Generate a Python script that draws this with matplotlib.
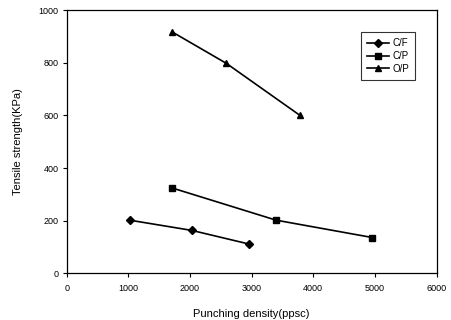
import matplotlib
matplotlib.use("Agg")
import matplotlib.pyplot as plt

plt.rcParams['font.family'] = ['Liberation Sans', 'DejaVu Sans']

cf_x = [1020, 2030, 2960]
cf_y = [202, 163, 111]
cp_x = [1715, 3395, 4955]
cp_y = [324, 202, 136]
op_x = [1715, 2590, 3785]
op_y = [917, 798, 600]

xticks = [0, 1000, 2000, 3000, 4000, 5000, 6000]
yticks = [0, 200, 400, 600, 800, 1000]

fig = plt.figure(figsize=(4.52, 3.2), dpi=100)
ax = fig.add_axes([0.1475, 0.146, 0.8185, 0.822])

ax.plot(cf_x, cf_y, color='black', lw=1.2, marker='D', ms=4, label='C/F')
ax.plot(cp_x, cp_y, color='black', lw=1.2, marker='s', ms=4.5, label='C/P')
ax.plot(op_x, op_y, color='black', lw=1.2, marker='^', ms=5, label='O/P')

ax.set_xlim(0, 6000)
ax.set_ylim(0, 1000)
ax.set_xticks(xticks)
ax.set_yticks(yticks)
ax.tick_params(direction='out', length=3, width=0.8, labelsize=6.5)
ax.tick_params(axis='x', pad=5)
ax.tick_params(axis='y', pad=3)
for s in ax.spines.values():
    s.set_linewidth(0.9)

ax.set_xlabel('Punching density(ppsc)', fontsize=8, labelpad=11)
ax.set_ylabel('Tensile strength(KPa)', fontsize=8, labelpad=11)

leg = ax.legend(loc='upper right', bbox_to_anchor=(0.955, 0.935), fontsize=7,
                frameon=True, fancybox=False, edgecolor='black',
                handlelength=2.2, borderpad=0.6, labelspacing=0.3, handletextpad=0.4)
leg.get_frame().set_linewidth(0.8)

fig.savefig('out.png', dpi=100)
